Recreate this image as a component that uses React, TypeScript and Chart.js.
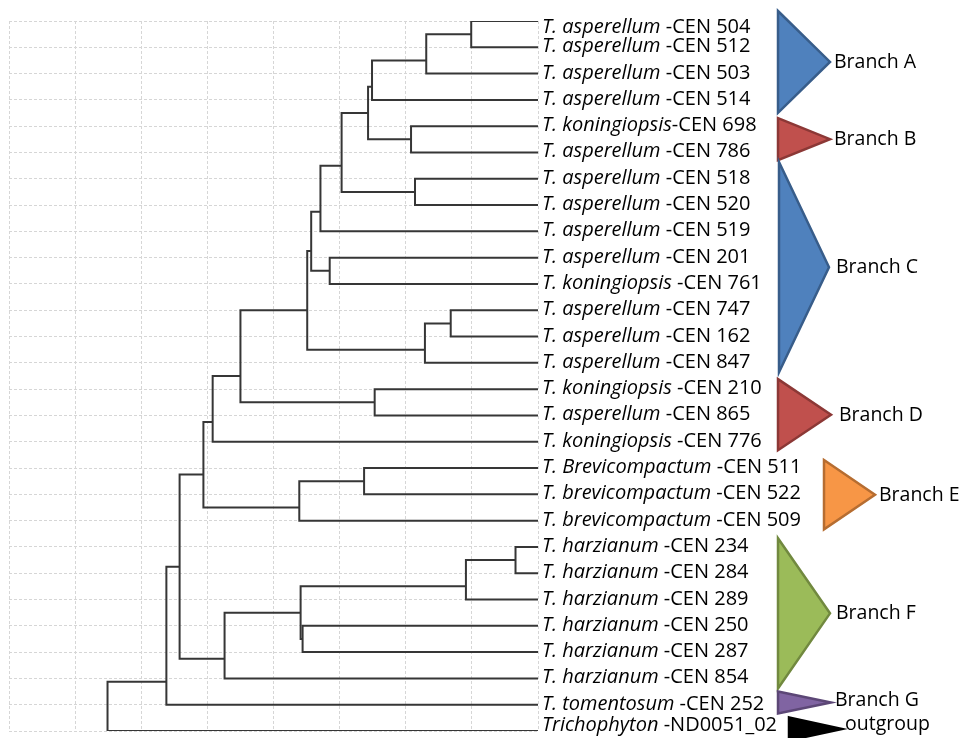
import React, { useEffect, useRef } from 'react';
import { Chart, registerables } from 'chart.js';

Chart.register(...registerables);

// ---------- DATA ----------
const species = [
  'T. asperellum', 'T. asperellum', 'T. asperellum', 'T. asperellum',
  'T. koningiopsis', 'T. asperellum', 'T. asperellum', 'T. asperellum',
  'T. asperellum', 'T. asperellum', 'T. koningiopsis', 'T. asperellum',
  'T. asperellum', 'T. asperellum', 'T. koningiopsis', 'T. asperellum',
  'T. koningiopsis', 'T. Brevicompactum', 'T. brevicompactum', 'T. brevicompactum',
  'T. harzianum', 'T. harzianum', 'T. harzianum', 'T. harzianum',
  'T. harzianum', 'T. harzianum', 'T. tomentosum', 'Trichophyton',
];
const strains = [
  ' -CEN 504', ' -CEN 512', ' -CEN 503', ' -CEN 514',
  '-CEN 698', ' -CEN 786', ' -CEN 518', ' -CEN 520',
  ' -CEN 519', ' -CEN 201', ' -CEN 761', ' -CEN 747',
  ' -CEN 162', ' -CEN 847', ' -CEN 210', ' -CEN 865',
  ' -CEN 776', ' -CEN 511', ' -CEN 522', ' -CEN 509',
  ' -CEN 234', ' -CEN 284', ' -CEN 289', ' -CEN 250',
  ' -CEN 287', ' -CEN 854', ' -CEN 252', ' -ND0051_02',
];
const tipDist = 8;

// internal nodes of the dendrogram
const nodeIds = ['n1', 'n2', 'n3', 'nB', 'n4', 'nC1', 'n5', 'n6', 'n201', 'n7', 'n747', 'n747b', 'n8', 'nD', 'n9', 'n10', 'n511', 'nE', 'n11', 'n234', 'n289', 'n250', 'nF2', 'nF', 'n12', 'n13', 'root'];
const nodeDist = [6.99, 6.31, 5.49, 6.08, 5.43, 6.14, 5.03, 4.71, 4.85, 4.57, 6.68, 6.29, 4.51, 5.53, 3.5, 3.08, 5.37, 4.39, 2.94, 7.66, 6.91, 4.44, 4.41, 3.26, 2.58, 2.38, 1.49];
const nodeRow = [0.5, 1.5, 2.5, 4.5, 3.5, 6.5, 5.5, 7.25, 9.5, 8.75, 11.5, 12.5, 11, 14.5, 13.5, 15.25, 17.5, 18.5, 17.25, 20.5, 21.5, 23.5, 22.5, 24.25, 20.75, 25.125, 26];
const nodeKidA = ['L0', 'n1', 'n2', 'L4', 'n3', 'L6', 'n4', 'n5', 'L9', 'n6', 'L11', 'n747', 'n7', 'L14', 'n8', 'n9', 'L17', 'n511', 'n10', 'L20', 'n234', 'L23', 'n289', 'nF2', 'n11', 'n12', 'n13'];
const nodeKidB = ['L1', 'L2', 'L3', 'L5', 'nB', 'L7', 'nC1', 'L8', 'L10', 'n201', 'L12', 'L13', 'n747b', 'L15', 'nD', 'L16', 'L18', 'L19', 'nE', 'L21', 'L22', 'L24', 'n250', 'L25', 'nF', 'L26', 'L27'];

// clade annotations
const branchLabels = ['Branch A', 'Branch B', 'Branch C', 'Branch D', 'Branch E', 'Branch F', 'Branch G', 'outgroup'];
const branchFirstLeaf = [0, 4, 6, 14, 17, 20, 26, 27];
const branchLastLeaf = [3, 5, 13, 16, 19, 25, 26, 27];

// ---------- STYLE ----------
const FONT = '"Open Sans", "Noto Sans", sans-serif';
const LEAF_FONT = 20;
const BRANCH_FONT = 19.5;
// [leftX, apexX, padTop, padBottom, labelX, labelDy, fill, stroke]
const branchStyle: [number, number, number, number, number, number, string, string][] = [
  [778, 830, 10, 13, 834, 6, '#4F81BD', '#385D8A'],
  [778, 830, 8, 7.6, 834, 6, '#C0504D', '#8C3836'],
  [779, 829, 16.7, 9.4, 836, 6, '#4F81BD', '#385D8A'],
  [778, 831, 10, 8.5, 839, 6, '#C0504D', '#8C3836'],
  [824, 875, 8, 8.7, 879, 6, '#F79646', '#B66D31'],
  [778, 830, 8.6, 10, 836, 6, '#9BBB59', '#71893F'],
  [778, 831, 13.3, 8.7, 835, 4, '#8064A2', '#5C4776'],
  [789, 842, 13.6, 9.4, 845, 1, '#000000', '#000000'],
];

function distOf(id: string): number {
  if (id[0] === 'L') return tipDist;
  return nodeDist[nodeIds.indexOf(id)];
}
function rowOf(id: string): number {
  if (id[0] === 'L') return Number(id.slice(1));
  return nodeRow[nodeIds.indexOf(id)];
}

const treeLabels = {
  id: 'treeLabels',
  afterDatasetsDraw(chart: any) {
    const { ctx, chartArea, scales } = chart;
    const xs = scales.x;
    const ys = scales.y;
    ctx.save();
    const tipPx = xs.getPixelForValue(tipDist);
    ctx.textBaseline = 'alphabetic';
    ctx.fillStyle = '#000';
    species.forEach((sp, i) => {
      const ly = ys.getPixelForValue(i);
      const base = Math.min(Math.max(ly + 5, chartArea.top + 12), chartArea.bottom);
      let cx = tipPx + 4;
      ctx.font = `italic ${LEAF_FONT}px ${FONT}`;
      ctx.fillText(sp, cx, base);
      cx += ctx.measureText(sp).width;
      ctx.font = `${LEAF_FONT}px ${FONT}`;
      ctx.fillText(strains[i], cx, base);
    });
    branchLabels.forEach((lab, i) => {
      const [lx, ax, pt, pb, tx, dy, fill, stroke] = branchStyle[i];
      const top = ys.getPixelForValue(branchFirstLeaf[i]) - pt;
      const bot = ys.getPixelForValue(branchLastLeaf[i]) + pb;
      const mid = (top + bot) / 2;
      ctx.beginPath();
      ctx.moveTo(lx, top);
      ctx.lineTo(ax, mid);
      ctx.lineTo(lx, bot);
      ctx.closePath();
      ctx.fillStyle = fill;
      ctx.fill();
      ctx.lineWidth = 2.5;
      ctx.lineJoin = 'miter';
      ctx.strokeStyle = stroke;
      ctx.stroke();
      ctx.fillStyle = '#000';
      ctx.font = `${BRANCH_FONT}px ${FONT}`;
      ctx.fillText(lab, tx, mid + dy);
    });
    ctx.restore();
  },
};

export default function App() {
  const ref = useRef<HTMLCanvasElement>(null);
  useEffect(() => {
    if (!ref.current) return;
    const datasets = nodeIds.map((id, i) => {
      const a = nodeKidA[i];
      const b = nodeKidB[i];
      return {
        label: id,
        data: [
          { x: distOf(a), y: rowOf(a) },
          { x: nodeDist[i], y: rowOf(a) },
          { x: nodeDist[i], y: rowOf(b) },
          { x: distOf(b), y: rowOf(b) },
        ],
        showLine: true,
        borderColor: '#363636',
        borderWidth: 2,
        pointRadius: 0,
        tension: 0,
        fill: false,
      };
    });
    const chart = new Chart(ref.current, {
      type: 'scatter',
      data: { datasets },
      options: {
        animation: false,
        responsive: false,
        devicePixelRatio: 1,
        layout: { padding: { left: 9, top: 21, right: 421, bottom: 7 } },
        plugins: { legend: { display: false }, tooltip: { enabled: false } },
        events: [],
        scales: {
          x: {
            type: 'linear',
            min: 0,
            max: tipDist,
            ticks: { display: false, stepSize: 1 },
            grid: { color: '#d6d6d6', lineWidth: 1, drawTicks: false },
            border: { display: false, dash: [3, 2] },
          },
          y: {
            type: 'linear',
            min: 0,
            max: species.length - 1,
            reverse: true,
            ticks: { display: false, stepSize: 1, maxTicksLimit: 100 },
            grid: { color: '#d6d6d6', lineWidth: 1, drawTicks: false },
            border: { display: false, dash: [3, 2] },
          },
        },
      },
      plugins: [treeLabels],
    });
    const fonts: any = (document as any).fonts;
    if (fonts && fonts.load) {
      Promise.all([
        fonts.load(`${LEAF_FONT}px "Open Sans"`),
        fonts.load(`italic ${LEAF_FONT}px "Open Sans"`),
      ]).then(() => chart.draw()).catch(() => {});
    }
    return () => chart.destroy();
  }, []);
  return (
    <div style={{ position: 'fixed', left: 0, top: 0, width: 959, height: 738, background: '#fff' }}>
      <canvas ref={ref} width={959} height={738} style={{ width: 959, height: 738 }} />
    </div>
  );
}
